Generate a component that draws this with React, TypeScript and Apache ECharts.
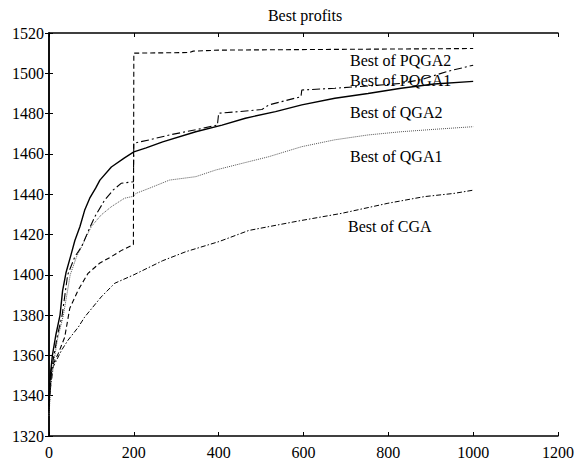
import React, { useEffect, useRef } from "react";
import * as echarts from "echarts";

const titleText = "Best profits";
const xTicks = { min: 0, max: 1200, interval: 200 };
const yTicks = { min: 1320, max: 1520, interval: 20 };

const pqga2Gen = [0, 6, 22, 37, 49, 69, 92, 119, 147, 170, 199, 200, 330, 340, 400, 1000];
const pqga2Val = [1340, 1354, 1361, 1369, 1383.4, 1392.5, 1400.7, 1405.7, 1409, 1412, 1415, 1510, 1510.3, 1511, 1511.5, 1512.3];

const pqga1Gen = [0, 4, 10, 20, 31, 44, 61, 77, 92, 108, 131, 151, 170, 199, 200, 237, 284, 346, 397, 400, 448, 502, 518, 594, 596, 674, 752, 830, 880, 940, 1000];
const pqga1Val = [1332, 1348, 1358, 1370, 1380, 1400, 1409, 1414, 1421.4, 1428.8, 1437, 1442, 1445.4, 1446.2, 1465.3, 1467, 1469.4, 1472, 1474.3, 1480.2, 1481, 1482, 1484.3, 1488.4, 1491.7, 1492.6, 1493.7, 1495, 1497, 1501, 1504];

const qga2Gen = [0, 3, 8, 16, 26, 32, 40, 52, 61, 73, 84, 96, 110, 120, 147, 178, 200, 229, 268, 346, 408, 463, 534, 596, 674, 752, 830, 908, 1000];
const qga2Val = [1335, 1350, 1360, 1370, 1380, 1392, 1401, 1410, 1417, 1424, 1432, 1438, 1443, 1447, 1453.5, 1458, 1461, 1463, 1466, 1471, 1474.3, 1477.7, 1481, 1484.3, 1487.6, 1490, 1492.6, 1494.7, 1496];

const qga1Gen = [0, 4, 10, 20, 34, 50, 65, 77, 88, 100, 123, 147, 178, 200, 205, 237, 284, 346, 393, 455, 518, 596, 674, 752, 830, 909, 1000];
const qga1Val = [1330, 1345, 1355, 1368, 1380, 1400, 1409, 1414, 1419, 1424, 1429.7, 1433.8, 1438, 1439, 1440.4, 1443, 1447, 1448.7, 1452, 1455.3, 1458.6, 1463.6, 1467, 1469.4, 1471, 1472.2, 1473.5];

const cgaGen = [0, 10, 30, 45, 69, 84, 123, 155, 200, 268, 323, 401, 471, 588, 690, 799, 885, 955, 1000];
const cgaVal = [1338, 1354.4, 1362.7, 1367.6, 1374, 1379, 1389, 1395.8, 1400, 1407, 1411.5, 1416.5, 1422, 1426.7, 1430.5, 1435.5, 1438.8, 1440.4, 1442];

const labels = ["Best of PQGA2", "Best of PQGA1", "Best of QGA2", "Best of QGA1", "Best of CGA"];

const zip = (g: number[], v: number[]) => g.map((x, i) => [x, v[i]]);

const FONT = "'Liberation Serif', 'Times New Roman', serif";

export default function App() {
  const ref = useRef<HTMLDivElement>(null);
  useEffect(() => {
    if (!ref.current) return;
    const chart = echarts.init(ref.current, null, { renderer: "svg" });
    const axisLine = { show: true, lineStyle: { color: "#000", width: 1.5 } };
    const tick = { show: true, inside: true, length: 4, lineStyle: { color: "#000", width: 1 } };
    const lbl = { color: "#000", fontFamily: FONT, fontSize: 16, formatter: (v: number) => String(v) };
    const mk = (name: string, data: number[][], type: any, width: number, color: string) => ({
      name,
      type: "line",
      data,
      showSymbol: false,
      symbol: "none",
      xAxisIndex: 0,
      yAxisIndex: 0,
      lineStyle: { color, width, type },
      z: 3,
    });
    const textStyle = { fill: "#000", font: `16px ${FONT}` };
    chart.setOption({
      animation: false,
      backgroundColor: "#fff",
      grid: { left: 49, top: 33, right: 16, bottom: 28, containLabel: false },
      xAxis: [
        {
          type: "value", position: "bottom", ...xTicks,
          axisLine, axisTick: tick, splitLine: { show: false },
          axisLabel: { ...lbl, margin: 8 },
        },
        {
          type: "value", position: "top", ...xTicks,
          axisLine, axisTick: tick, splitLine: { show: false },
          axisLabel: { show: false },
        },
      ],
      yAxis: [
        {
          type: "value", position: "left", ...yTicks,
          axisLine, axisTick: tick, splitLine: { show: false },
          axisLabel: { ...lbl, margin: 5 },
        },
        {
          type: "value", position: "right", ...yTicks,
          axisLine, axisTick: tick, splitLine: { show: false },
          axisLabel: { show: false },
        },
      ],
      series: [
        mk(labels[4], zip(cgaGen, cgaVal), [5, 2, 1.5, 2], 1, "#000"),
        mk(labels[3], zip(qga1Gen, qga1Val), [1, 1], 1, "#555"),
        mk(labels[2], zip(qga2Gen, qga2Val), "solid", 1.4, "#000"),
        mk(labels[1], zip(pqga1Gen, pqga1Val), [8, 3, 2, 3], 1.1, "#000"),
        mk(labels[0], zip(pqga2Gen, pqga2Val), [5, 3], 1.1, "#000"),
      ],
      graphic: [
        { type: "text", x: 305, y: 15, style: { ...textStyle, text: titleText, textAlign: "center", textVerticalAlign: "middle" } },
        { type: "text", x: 350, y: 60, style: { ...textStyle, text: labels[0], textVerticalAlign: "middle" } },
        { type: "text", x: 350, y: 80, style: { ...textStyle, text: labels[1], textVerticalAlign: "middle" } },
        { type: "text", x: 350, y: 112, style: { ...textStyle, text: labels[2], textVerticalAlign: "middle" } },
        { type: "text", x: 350, y: 156, style: { ...textStyle, text: labels[3], textVerticalAlign: "middle" } },
        { type: "text", x: 348, y: 226, style: { ...textStyle, text: labels[4], textVerticalAlign: "middle" } },
      ],
    });
    return () => chart.dispose();
  }, []);
  return (
    <div
      ref={ref}
      style={{ position: "fixed", left: 0, top: 0, width: 577, height: 464, background: "#fff" }}
    />
  );
}
